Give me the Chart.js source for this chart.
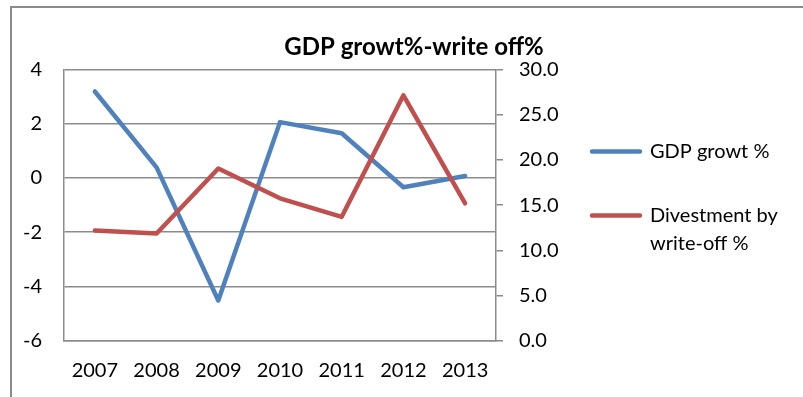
<!DOCTYPE html>
<html><head><meta charset="utf-8">
<script src="https://cdn.jsdelivr.net/npm/chart.js@4.4.1/dist/chart.umd.min.js"></script>
<style>
html,body{margin:0;padding:0;background:#fff;overflow:hidden;}
#wrap{position:relative;width:803px;height:397px;overflow:hidden;}
#frame{position:absolute;left:10px;top:6px;width:900px;height:500px;border-left:2px solid #8b8b8b;border-top:2px solid #8b8b8b;}
canvas{position:absolute;left:0;top:0;}
</style></head><body>
<div id="wrap"><div id="frame"></div><canvas id="c" width="803" height="397"></canvas></div>
<script>
// ---- data ----
const categories = ['2007', '2008', '2009', '2010', '2011', '2012', '2013'];
const gdpGrowth = [3.19, 0.39, -4.52, 2.06, 1.65, -0.34, 0.07];
const writeOff = [12.2, 11.85, 19.05, 15.75, 13.7, 27.15, 15.2];
const seriesNames = ['GDP growt %', 'Divestment by write-off %'];
const legendText = ['GDP growt %', ['Divestment by', 'write-off %']];
const titleText = 'GDP growt%-write off%';
const leftAxis = { min: -6, max: 4, step: 2 };
const rightAxis = { min: 0, max: 30, step: 5 };

// ---- layout ----
const FONT = 'Lato';
const FS = 20, PAD = 44, BOXW = 48;
const GRID = '#8b8b8b';
const W = 803;
const PLOT_L = 64, PLOT_R = 496, LEG_ITEM_X = 592, TITLE_CX = 414;
const m = document.createElement('canvas').getContext('2d');
m.font = FS + 'px ' + FONT;
const longestStr = legendText.map(t => Array.isArray(t) ? t.reduce((a, b) => a.length > b.length ? a : b) : t)
  .reduce((a, b) => a.length > b.length ? a : b);
const legendW = PAD + BOXW + FS / 2 + m.measureText(longestStr).width + 10;
const legendLeft = LEG_ITEM_X - PAD;
const pr = Math.max(0, W - legendLeft - legendW);
const pl = Math.max(0, 2 * TITLE_CX - W + pr);
const noLabelClip = s => { s._computeLabelArea = () => undefined; };

Chart.defaults.color = '#000';
Chart.defaults.font.family = FONT;

new Chart(document.getElementById('c'), {
  type: 'line',
  data: {
    labels: categories,
    datasets: [
      { label: seriesNames[0], data: gdpGrowth, yAxisID: 'y', borderColor: '#4f81bd', backgroundColor: '#4f81bd',
        borderWidth: 4.5, pointRadius: 0, tension: 0, borderCapStyle: 'round', borderJoinStyle: 'round', order: 1 },
      { label: seriesNames[1], data: writeOff, yAxisID: 'y1', borderColor: '#c0504d', backgroundColor: '#c0504d',
        borderWidth: 4.5, pointRadius: 0, tension: 0, borderCapStyle: 'round', borderJoinStyle: 'round', order: 0 }
    ]
  },
  options: {
    responsive: false, animation: false, devicePixelRatio: 1,
    layout: { padding: { left: pl, right: pr, top: 6, bottom: 0 } },
    plugins: {
      title: { display: true, text: titleText, color: '#000', font: { family: FONT, size: 24, weight: 'bold', lineHeight: 1.2 },
        padding: { top: 26.4, bottom: 8.3 } },
      legend: {
        position: 'right', fullSize: true, maxWidth: 400,
        labels: {
          boxWidth: BOXW, boxHeight: 0, padding: PAD, color: '#000',
          font: { family: FONT, size: FS, lineHeight: 1.4 },
          sort: (a, b) => a.datasetIndex - b.datasetIndex,
          generateLabels(chart) {
            const items = Chart.defaults.plugins.legend.labels.generateLabels(chart);
            items.forEach(it => { it.text = legendText[it.datasetIndex]; it.lineJoin = 'round'; });
            return items;
          }
        }
      },
      tooltip: { enabled: false }
    },
    scales: {
      x: {
        offset: true,
        grid: { display: false, drawTicks: false },
        border: { display: true, color: GRID, width: 1.5 },
        ticks: { padding: 18, font: { family: FONT, size: FS }, color: '#000', maxRotation: 0, autoSkip: false },
        afterFit(s) { s.height = 56.3; }
      },
      y: {
        position: 'left', min: leftAxis.min, max: leftAxis.max,
        ticks: { stepSize: leftAxis.step, padding: 22, font: { family: FONT, size: FS }, color: '#000' },
        grid: { color: GRID, lineWidth: 1.5, drawTicks: false },
        border: { display: true, color: GRID, width: 1.5 },
        afterFit(s) { s.width = PLOT_L - pl; noLabelClip(s); }
      },
      y1: {
        position: 'right', min: rightAxis.min, max: rightAxis.max,
        ticks: { stepSize: rightAxis.step, padding: 16, font: { family: FONT, size: FS }, color: '#000',
          callback: v => Number(v).toFixed(1) },
        grid: { drawOnChartArea: false, drawTicks: true, tickLength: 7, color: GRID, lineWidth: 1.5 },
        border: { display: true, color: GRID, width: 1.5 },
        afterFit(s) { s.width = legendLeft - PLOT_R; noLabelClip(s); }
      }
    }
  }
});
</script>
</body></html>
